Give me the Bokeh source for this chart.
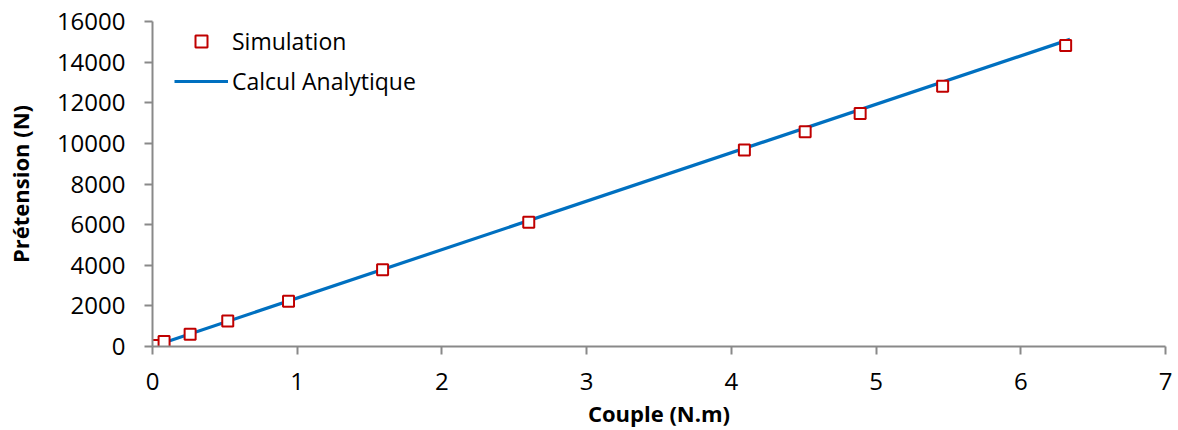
from bokeh.plotting import figure
from bokeh.models import ColumnDataSource, Legend, LegendItem, FixedTicker, Range1d
from bokeh.embed import file_html
from bokeh.resources import INLINE

# Data
sim_x = [0.0, 0.01, 0.08, 0.26, 0.52, 0.94, 1.59, 2.60, 4.09, 4.51, 4.89, 5.46, 6.31]
sim_y = [0, 50, 250, 600, 1250, 2230, 3780, 6120, 9670, 10570, 11470, 12810, 14820]

ana_x = [0.0, 6.34]
ana_y = [0, 15120]

x_ticks = [0, 1, 2, 3, 4, 5, 6, 7]
y_ticks = [0, 2000, 4000, 6000, 8000, 10000, 12000, 14000, 16000]

FONT = "Open Sans"
AXIS_COLOR = "#898989"
RED = "#C00000"
BLUE = "#0070C0"

p = figure(width=1177, height=430, output_backend="svg", toolbar_location=None,
           x_range=Range1d(0, 7), y_range=Range1d(0, 16000),
           min_border_left=152, min_border_right=12, min_border_top=21, min_border_bottom=83)
p.outline_line_color = None
p.xgrid.grid_line_color = None
p.ygrid.grid_line_color = None
p.background_fill_color = "white"
p.border_fill_color = "white"

line_r = p.line(ana_x, ana_y, line_color=BLUE, line_width=3.2)
src = ColumnDataSource(dict(x=sim_x, y=sim_y))
sq_r = p.scatter("x", "y", source=src, marker="square", size=11, fill_color="white",
                 line_color=RED, line_width=2)
# smaller marker used only for the legend entry (no visible point)
leg_sq = p.scatter(x=[float("nan")], y=[float("nan")], marker="square", size=8,
                   fill_color="white", line_color=RED, line_width=2)

for ax in (p.xaxis[0], p.yaxis[0]):
    ax.axis_line_color = AXIS_COLOR
    ax.axis_line_width = 2
    ax.major_tick_line_color = AXIS_COLOR
    ax.major_tick_line_width = 2
    ax.major_tick_out = 8
    ax.major_tick_in = 0
    ax.minor_tick_line_color = None
    ax.major_label_text_font = FONT
    ax.major_label_text_font_size = "24px"
    ax.major_label_text_color = "black"
    ax.axis_label_text_font = FONT
    ax.axis_label_text_font_size = "22px"
    ax.axis_label_text_font_style = "bold"
    ax.axis_label_text_color = "black"

p.xaxis[0].ticker = FixedTicker(ticks=x_ticks)
p.yaxis[0].ticker = FixedTicker(ticks=y_ticks)
p.xaxis[0].axis_label = "Couple (N.m)"
p.yaxis[0].axis_label = "Prétension (N)"
p.xaxis[0].major_label_standoff = 18
p.xaxis[0].axis_label_standoff = 5
p.yaxis[0].major_label_standoff = 19
p.yaxis[0].axis_label_standoff = 19

legend = Legend(items=[LegendItem(label="Simulation", renderers=[leg_sq]),
                       LegendItem(label="Calcul Analytique", renderers=[line_r])],
                location=(22, 249), border_line_color=None, background_fill_alpha=0,
                label_text_font=FONT, label_text_font_size="23px",
                label_text_color="black",
                glyph_width=54, glyph_height=30, label_standoff=4, spacing=8,
                padding=6, margin=0)
p.add_layout(legend, "center")

open("out.html", "w").write(file_html(p, INLINE))
